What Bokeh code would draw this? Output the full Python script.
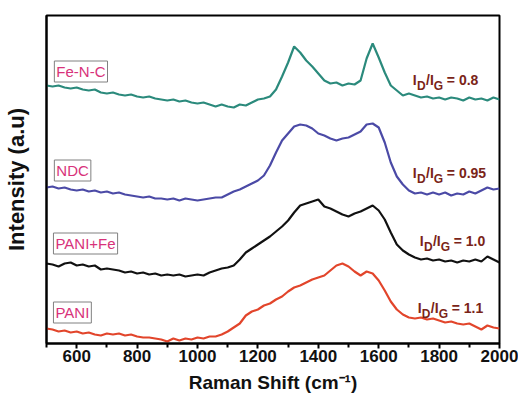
from bokeh.plotting import figure
from bokeh.models import Label, FixedTicker, Range1d
from bokeh.embed import file_html
from bokeh.resources import INLINE

# Raman shift (cm^-1), 500..2000 every 20
shift = list(range(500, 2001, 20))

# Intensities (a.u., stacked as drawn)
fe_n_c = [258, 257, 258, 256, 255, 256, 254, 253, 254, 251,
          250, 251, 249, 248, 249, 247, 246, 247, 245, 244,
          243, 244, 242, 243, 241, 240, 241, 239, 237, 239,
          237, 236, 239, 238, 241, 244, 245, 247, 254, 267,
          281, 297, 291, 283, 277, 270, 263, 260, 261, 258,
          260, 259, 263, 285, 300, 286, 271, 258, 253, 248,
          250, 248, 246, 247, 245, 246, 244, 246, 245, 243,
          246, 244, 245, 243, 246, 244]
ndc = [156, 157, 155, 156, 154, 153, 154, 152, 153, 151,
       152, 150, 151, 149, 148, 147, 146, 147, 145, 145,
       144, 145, 143, 145, 144, 143, 144, 145, 146, 146,
       149, 152, 154, 157, 160, 163, 168, 178, 191, 203,
       210, 217, 219, 218, 215, 210, 208, 205, 203, 205,
       206, 209, 212, 219, 220, 216, 201, 181, 167, 159,
       153, 150, 151, 149, 151, 149, 151, 148, 150, 149,
       152, 150, 153, 156, 154, 155]
pani_fe = [80, 79, 77, 80, 81, 78, 79, 77, 78, 74,
           75, 74, 73, 71, 72, 70, 71, 69, 70, 68,
           69, 68, 69, 67, 68, 69, 68, 71, 73, 75,
           76, 78, 84, 91, 95, 99, 103, 107, 112, 117,
           123, 131, 138, 140, 142, 144, 137, 135, 132, 129,
           127, 130, 132, 135, 138, 133, 124, 111, 99, 93,
           89, 86, 84, 85, 83, 84, 82, 83, 81, 83,
           82, 84, 82, 87, 84, 81]
pani = [15, 14, 12, 13, 11, 12, 10, 11, 9, 8,
        10, 9, 10, 8, 9, 7, 6, 6, 5, 4,
        2, 5, 3, 5, 4, 6, 5, 7, 7, 9,
        12, 16, 20, 28, 32, 34, 38, 40, 44, 47,
        52, 56, 58, 61, 64, 66, 68, 73, 78, 80,
        77, 72, 68, 72, 70, 63, 53, 42, 34, 29,
        26, 25, 26, 24, 25, 23, 21, 22, 20, 19,
        20, 17, 14, 18, 16, 15]

sample_names = ["Fe-N-C", "NDC", "PANI+Fe", "PANI"]
ratios = ["0.8", "0.95", "1.0", "1.1"]
major_ticks = [600, 800, 1000, 1200, 1400, 1600, 1800, 2000]
minor_ticks = [500, 700, 900, 1100, 1300, 1500, 1700, 1900]

FONT = "Liberation Sans"
colors = ["#2b8a7c", "#4b4aa6", "#111111", "#e2452b"]
series = [fe_n_c, ndc, pani_fe, pani]

p = figure(width=518, height=403, output_backend="svg", toolbar_location=None,
           x_range=Range1d(500, 2000), y_range=Range1d(0, 328),
           min_border_left=45, min_border_right=19, min_border_top=15, min_border_bottom=60)
p.background_fill_color = "white"
p.border_fill_color = "white"
p.xgrid.visible = False
p.ygrid.visible = False
p.outline_line_color = "black"
p.outline_line_width = 2

for ys, c in zip(series, colors):
    p.line(shift, ys, line_color=c, line_width=2.2)

xa = p.xaxis[0]
xa.ticker = FixedTicker(ticks=major_ticks, minor_ticks=minor_ticks)
xa.axis_line_width = 2
xa.major_tick_line_width = 2
xa.minor_tick_line_width = 2
xa.major_tick_in = 0
xa.major_tick_out = 5
xa.minor_tick_in = 0
xa.minor_tick_out = 4
xa.major_label_standoff = 1
xa.major_label_text_font = FONT
xa.major_label_text_font_style = "bold"
xa.major_label_text_font_size = "17px"
xa.major_label_text_color = "#111111"
xa.axis_label = "Raman Shift (cm\u207b\u00b9)"
xa.axis_label_text_font = FONT
xa.axis_label_text_font_style = "bold"
xa.axis_label_text_font_size = "19px"
xa.axis_label_text_color = "#111111"
xa.axis_label_standoff = 7

ya = p.yaxis[0]
ya.axis_line_width = 2
ya.major_tick_line_color = None
ya.minor_tick_line_color = None
ya.major_label_text_font_size = "0px"
ya.major_label_text_color = None
ya.axis_label = "Intensity (a.u)"
ya.axis_label_text_font = FONT
ya.axis_label_text_font_style = "bold"
ya.axis_label_text_font_size = "22px"
ya.axis_label_text_color = "#111111"
ya.axis_label_standoff = 12

# Sample name boxes
name_pos = [(526, 272), (526, 173), (523, 100), (523, 31)]
for name, (lx, ly) in zip(sample_names, name_pos):
    p.add_layout(Label(x=lx, y=ly, text=name, text_font=FONT, text_font_size="15px",
                       text_color="#d8327a", text_align="left", text_baseline="middle",
                       border_line_color="#808080", border_line_width=1,
                       background_fill_color="white", padding=2))

# I_D/I_G ratio labels
ratio_pos = [(1713, 264), (1713, 171), (1736, 103), (1729, 36)]
RC = "#7a2418"
for r, (lx, ly) in zip(ratios, ratio_pos):
    pieces = [("I", 0, 0, "14px"), ("D", 4.2, -6, "12px"), ("/I", 13.2, 0, "14px"),
              ("G", 21, -6, "12px"), ("= " + r, 34, 0, "14px")]
    for t, dx, dy, fs in pieces:
        p.add_layout(Label(x=lx, y=ly, x_offset=dx, y_offset=dy, text=t, text_font=FONT,
                           text_font_style="bold", text_font_size=fs, text_color=RC,
                           text_align="left", text_baseline="alphabetic"))

open("out.html", "w").write(file_html(p, INLINE))
